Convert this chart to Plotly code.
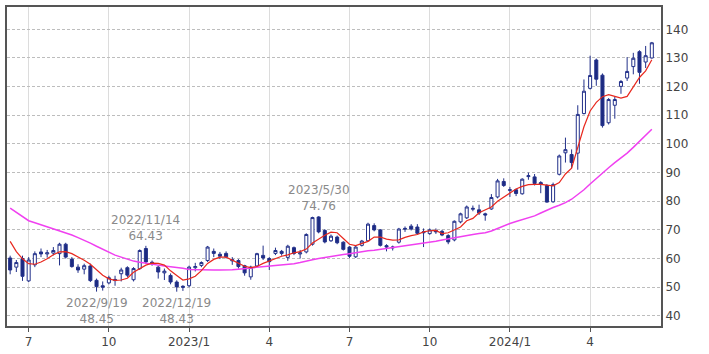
import pandas as pd
import plotly.graph_objects as go

# ---- data (weekly candles) ----
week_start = "2022-06-13"
n_weeks = 105
weeks = pd.date_range(week_start, periods=n_weeks, freq="7D")

opens = [60.2, 57.0, 60.0, 52.2, 57.8, 62.3, 61.6, 61.9, 61.7, 65.0,
         59.8, 57.0, 56.3, 57.4, 52.4, 50.5, 51.5, 52.3, 54.7, 56.8,
         52.6, 56.5, 63.5, 58.7, 57.0, 55.0, 54.1, 51.8, 50.3, 50.5,
         56.8, 57.6, 59.3, 62.5, 61.5, 61.8, 59.2, 59.3, 57.5, 53.6,
         57.4, 61.1, 60.0, 61.8, 62.5, 60.4, 63.8, 61.6, 62.3, 65.0,
         74.5, 69.8, 66.2, 67.5, 65.7, 64.0, 60.6, 64.6, 66.2, 71.5,
         70.0, 64.5, 63.7, 65.7, 70.2, 71.3, 71.0, 69.0, 68.7, 69.8,
         69.5, 68.0, 66.5, 72.8, 74.2, 77.2, 77.0, 75.6, 77.3, 81.5,
         86.9, 83.8, 84.0, 82.6, 88.6, 88.5, 86.5, 85.5, 79.8, 89.4,
         96.9, 96.3, 96.8, 110.6, 119.4, 129.3, 124.0, 107.4, 113.5, 120.1,
         123.0, 127.0, 132.2, 128.6, 130.0]
highs = [61.0, 59.5, 61.0, 60.5, 62.5, 63.5, 63.0, 64.0, 65.5, 65.5,
         60.5, 58.0, 58.2, 58.2, 53.0, 52.0, 54.0, 54.0, 56.8, 57.3,
         57.0, 63.2, 64.43, 59.3, 57.6, 56.5, 54.8, 52.4, 50.7, 57.5,
         58.5, 59.0, 64.4, 63.5, 62.3, 62.5, 60.5, 59.8, 57.8, 57.5,
         62.0, 64.5, 60.5, 63.8, 63.0, 64.8, 64.2, 63.0, 68.8, 74.6,
         74.76, 70.2, 68.4, 68.0, 66.0, 64.3, 64.5, 66.5, 72.5, 72.3,
         70.3, 65.0, 64.5, 70.7, 71.2, 72.0, 72.0, 70.5, 70.5, 70.5,
         70.0, 68.5, 73.3, 76.0, 78.5, 78.5, 78.8, 76.0, 82.5, 87.8,
         88.0, 85.0, 84.4, 88.0, 90.0, 89.5, 87.0, 86.0, 86.5, 96.3,
         102.2, 98.1, 113.5, 122.5, 130.8, 129.8, 124.6, 116.0, 116.5, 122.3,
         130.3, 131.8, 132.7, 134.2, 135.6]
lows = [54.5, 55.3, 52.2, 51.8, 57.0, 60.5, 60.3, 61.1, 57.6, 60.0,
        56.8, 55.0, 54.5, 51.8, 48.45, 48.8, 51.0, 50.5, 52.0, 53.5,
        52.0, 56.0, 58.2, 57.5, 53.0, 52.5, 51.0, 48.43, 48.7, 50.0,
        55.5, 57.0, 58.8, 60.5, 59.8, 60.0, 57.8, 56.5, 54.0, 52.6,
        57.0, 59.5, 56.0, 61.2, 61.0, 59.2, 61.2, 60.0, 61.8, 64.5,
        68.8, 65.3, 65.8, 65.0, 62.8, 60.2, 60.2, 64.2, 66.0, 69.5,
        64.2, 62.5, 62.8, 65.2, 69.3, 69.8, 68.3, 64.0, 68.3, 68.6,
        67.8, 65.0, 66.0, 72.3, 73.8, 76.5, 75.2, 73.2, 77.0, 81.0,
        85.0, 81.5, 81.8, 82.3, 87.5, 85.5, 82.8, 79.5, 79.5, 89.0,
        93.5, 91.5, 91.0, 110.3, 119.0, 120.3, 105.7, 106.8, 108.8, 117.5,
        122.0, 124.3, 121.0, 126.5, 129.8]
closes = [56.0, 58.6, 53.8, 59.5, 61.7, 61.6, 62.0, 62.8, 65.0, 60.5,
          57.2, 56.0, 57.5, 52.3, 50.2, 50.0, 53.3, 52.7, 56.0, 54.2,
          56.5, 62.8, 58.8, 58.2, 55.3, 55.6, 51.8, 50.1, 50.0, 57.0,
          57.2, 58.6, 64.0, 61.8, 60.8, 60.6, 59.6, 57.2, 55.0, 57.0,
          61.7, 60.2, 58.9, 62.8, 61.8, 64.3, 61.8, 62.0, 68.4, 74.3,
          69.3, 65.8, 67.8, 65.5, 63.2, 60.8, 64.0, 66.1, 72.0, 70.0,
          64.6, 64.0, 64.0, 70.3, 70.5, 70.3, 68.8, 69.3, 70.0, 69.3,
          68.2, 65.8, 73.0, 75.6, 78.0, 77.5, 75.9, 75.2, 81.3, 87.1,
          85.5, 84.0, 82.7, 87.7, 88.9, 86.2, 86.0, 79.7, 85.8, 95.8,
          98.0, 93.5, 110.3, 118.4, 123.9, 122.6, 106.4, 115.5, 115.5, 121.8,
          125.3, 129.9, 125.0, 130.8, 135.3]

# short moving average (red) and long moving average (magenta)
ma_short = [66.0, 62.4, 59.9, 58.2, 58.0, 58.8, 59.9, 61.3, 62.3, 62.4,
            61.7, 60.6, 59.4, 58.0, 56.0, 54.2, 52.9, 52.4, 52.5, 53.1,
            55.2, 56.6, 57.7, 58.4, 58.3, 57.7, 55.7, 54.1, 52.5, 52.9,
            53.8, 55.8, 58.3, 59.7, 60.5, 60.5, 59.4, 58.3, 57.3, 56.8,
            57.2, 58.3, 59.1, 60.0, 60.8, 61.3, 62.0, 62.4, 63.3, 65.4,
            66.9, 68.1, 69.2, 69.0, 67.0, 65.0, 64.5, 65.3, 66.0, 67.5,
            67.5, 66.8, 66.4, 66.5, 67.4, 68.0, 68.4, 69.3, 69.7, 69.8,
            68.7, 69.0, 69.9, 71.0, 73.2, 74.0, 76.0, 77.0, 78.0, 80.0,
            81.5, 83.0, 84.3, 85.2, 85.8, 85.9, 85.9, 85.6, 85.4, 86.5,
            89.5, 91.5, 99.0, 106.0, 111.5, 114.5, 116.5, 117.2, 116.6, 116.0,
            116.6, 119.8, 123.2, 125.5, 129.4]
ma_long = [77.6, 76.2, 74.7, 73.2, 72.5, 71.8, 71.1, 70.4, 69.7, 69.0,
           68.2, 67.3, 66.4, 65.4, 64.3, 63.2, 62.1, 61.2, 60.5, 59.8,
           59.1, 58.7, 58.3, 58.0, 57.7, 57.4, 57.2, 57.0, 56.6, 56.2,
           56.1, 56.1, 56.0, 56.0, 56.0, 56.0, 56.1, 56.3, 56.5, 56.6,
           56.8, 57.0, 57.2, 57.5, 57.7, 58.0, 58.2, 58.6, 59.2, 59.6,
           60.0, 60.4, 60.8, 61.1, 61.4, 61.7, 62.1, 62.4, 62.7, 62.9,
           63.2, 63.5, 63.8, 64.0, 64.4, 64.7, 65.0, 65.3, 65.6, 66.0,
           66.5, 66.9, 67.3, 67.8, 68.1, 68.4, 68.7, 69.0, 69.6, 70.5,
           71.4, 72.2, 72.9, 73.6, 74.2, 74.9, 75.9, 76.9, 77.8, 78.6,
           79.5, 80.7, 82.2, 84.0, 86.0, 88.0, 89.8, 91.7, 93.5, 95.1,
           96.8, 98.8, 100.9, 103.0, 105.1]

tick_dates = ["2022-07-04", "2022-10-03", "2023-01-02", "2023-04-03",
              "2023-07-03", "2023-10-02", "2024-01-01", "2024-04-01"]
tick_labels = ["7", "10", "2023/1", "4", "7", "10", "2024/1", "4"]

y_ticks = [40, 50, 60, 70, 80, 90, 100, 110, 120, 130, 140]

# extreme-value labels: (candle week, label date, value, kind)
extreme_weeks = ["2022-09-19", "2022-11-14", "2022-12-19", "2023-05-29"]
extreme_dates = ["2022/9/19", "2022/11/14", "2022/12/19", "2023/5/30"]
extreme_values = [48.45, 64.43, 48.43, 74.76]
extreme_kinds = ["low", "high", "low", "high"]

# ---- figure ----
candle_color = "#22308a"
fig = go.Figure()
fig.add_trace(go.Candlestick(
    x=weeks, open=opens, high=highs, low=lows, close=closes,
    increasing=dict(line=dict(color=candle_color, width=1), fillcolor="white"),
    decreasing=dict(line=dict(color=candle_color, width=1), fillcolor="#1c2a80"),
    whiskerwidth=0, showlegend=False, hoverinfo="skip"))
fig.add_trace(go.Scatter(x=weeks, y=ma_long, mode="lines",
                         line=dict(color="#f040f0", width=1.5), showlegend=False, hoverinfo="skip"))
fig.add_trace(go.Scatter(x=weeks, y=ma_short, mode="lines",
                         line=dict(color="#e8281e", width=1.2), showlegend=False, hoverinfo="skip"))

annots = []
for wk, dtxt, val, kind in zip(extreme_weeks, extreme_dates, extreme_values, extreme_kinds):
    if kind == "high":
        anchor, sh = "bottom", 1
    else:
        anchor, sh = "top", -2
    annots.append(dict(x=wk, y=val, text=f"{dtxt}<br>{val:.2f}", showarrow=False,
                       xanchor="center", yanchor=anchor, yshift=sh, align="center",
                       font=dict(family="DejaVu Sans", size=12, color="#8a8a8a")))

fig.update_layout(
    width=709, height=354,
    margin=dict(l=5, r=48, t=5, b=28),
    paper_bgcolor="white", plot_bgcolor="white",
    font=dict(family="DejaVu Sans", size=12, color="#444444"),
    annotations=annots,
    showlegend=False,
)
fig.update_xaxes(
    type="date", range=["2022-06-09 10:00", "2024-06-20 10:00"],
    rangeslider=dict(visible=False),
    tickvals=tick_dates, ticktext=tick_labels, tickangle=0,
    showgrid=True, gridcolor="#dcdcdc", gridwidth=1,
    showline=True, linecolor="#555555", linewidth=2, mirror=True,
    ticks="outside", ticklen=4, tickcolor="#555555",
    tickfont=dict(size=12, color="#444444"), zeroline=False,
)
fig.update_yaxes(
    side="right", range=[36.45, 147.8],
    tickvals=y_ticks, ticktext=[str(v) for v in y_ticks],
    showgrid=True, gridcolor="#bdbdbd", gridwidth=1, griddash="3px,2px",
    showline=True, linecolor="#555555", linewidth=2, mirror=True,
    ticks="", tickfont=dict(size=12, color="#444444"), zeroline=False,
)

fig.write_html("out.html")
